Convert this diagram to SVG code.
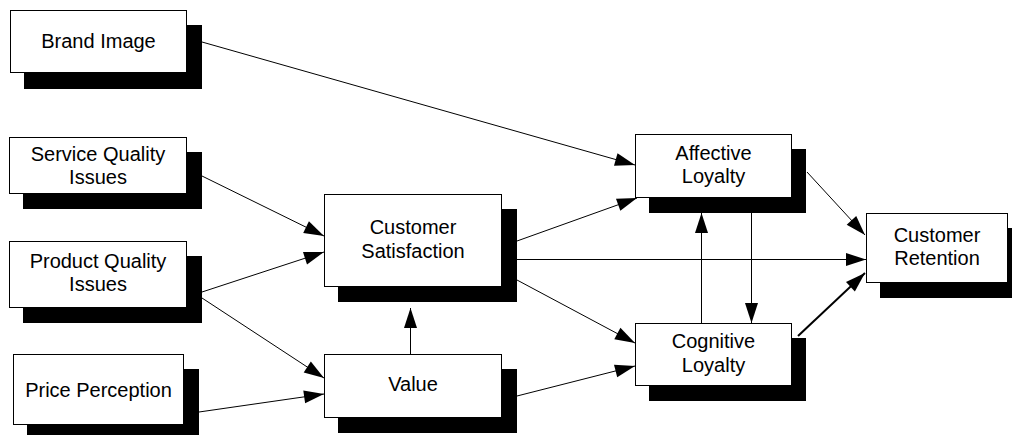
<svg xmlns="http://www.w3.org/2000/svg" width="1012" height="435" viewBox="0 0 1012 435">
  <style>
    .shadow { fill: #000; }
    .box { fill: #fff; stroke: #000; stroke-width: 1; }
    .label { font-family: "Liberation Sans", Arial, sans-serif; font-size: 20px; fill: #000; text-anchor: middle; }
    .edge { stroke: #000; stroke-width: 1; fill: none; marker-end: url(#arrow); }
    .edge.bold { stroke-width: 2; }
  </style>
  <defs>
    <marker id="arrow" markerUnits="userSpaceOnUse" markerWidth="20" markerHeight="13" refX="20" refY="6.5" orient="auto" overflow="visible">
      <path d="M0,0 L20,6.5 L0,13 Z" fill="#000"/>
    </marker>
  </defs>

  <rect width="1012" height="435" fill="#fff"/>

  <g id="connectors">
    <line class="edge" x1="202" y1="42" x2="635" y2="165"/>
    <line class="edge" x1="202" y1="176" x2="324" y2="236"/>
    <line class="edge" x1="202" y1="292" x2="324" y2="252"/>
    <line class="edge" x1="202" y1="298" x2="324" y2="378"/>
    <line class="edge" x1="199" y1="412" x2="324" y2="394"/>
    <line class="edge" x1="410.5" y1="354" x2="410.5" y2="308"/>
    <line class="edge" x1="517" y1="241" x2="637" y2="198"/>
    <line class="edge" x1="517" y1="259.5" x2="866" y2="259.5"/>
    <line class="edge" x1="517" y1="280" x2="635" y2="343"/>
    <line class="edge" x1="517" y1="396" x2="635" y2="366"/>
    <line class="edge" x1="701.5" y1="323" x2="701.5" y2="213"/>
    <line class="edge" x1="751.5" y1="213" x2="751.5" y2="323"/>
    <line class="edge" x1="807" y1="172" x2="865" y2="235"/>
    <line class="edge bold" x1="798" y1="336" x2="865" y2="273"/>
  </g>

  <g id="brand-image">
    <rect class="shadow" x="24" y="25" width="178" height="64"/>
    <rect class="box" x="10.5" y="10.5" width="176" height="62"/>
    <text class="label" x="98.5" y="48">Brand Image</text>
  </g>

  <g id="service-quality">
    <rect class="shadow" x="23" y="152" width="179" height="57"/>
    <rect class="box" x="9.5" y="137.5" width="177" height="56"/>
    <text class="label" x="98" y="161">Service Quality</text>
    <text class="label" x="98" y="184">Issues</text>
  </g>

  <g id="product-quality">
    <rect class="shadow" x="23" y="256" width="179" height="67"/>
    <rect class="box" x="9.5" y="241.5" width="177" height="66"/>
    <text class="label" x="98" y="268">Product Quality</text>
    <text class="label" x="98" y="291">Issues</text>
  </g>

  <g id="price-perception">
    <rect class="shadow" x="27" y="369" width="172" height="66"/>
    <rect class="box" x="13.5" y="354.5" width="170" height="70"/>
    <text class="label" x="98.5" y="397">Price Perception</text>
  </g>

  <g id="customer-satisfaction">
    <rect class="shadow" x="338" y="209" width="179" height="93"/>
    <rect class="box" x="324.5" y="194.5" width="177" height="92"/>
    <text class="label" x="413" y="234">Customer</text>
    <text class="label" x="413" y="258">Satisfaction</text>
  </g>

  <g id="value">
    <rect class="shadow" x="338" y="369" width="179" height="64"/>
    <rect class="box" x="324.5" y="354.5" width="177" height="63"/>
    <text class="label" x="413" y="391">Value</text>
  </g>

  <g id="affective-loyalty">
    <rect class="shadow" x="649" y="149" width="157" height="64"/>
    <rect class="box" x="635.5" y="134.5" width="156" height="63"/>
    <text class="label" x="713.5" y="160">Affective</text>
    <text class="label" x="713.5" y="183">Loyalty</text>
  </g>

  <g id="cognitive-loyalty">
    <rect class="shadow" x="649" y="338" width="157" height="63"/>
    <rect class="box" x="635.5" y="323.5" width="156" height="62"/>
    <text class="label" x="713.5" y="348">Cognitive</text>
    <text class="label" x="713.5" y="372">Loyalty</text>
  </g>

  <g id="customer-retention">
    <rect class="shadow" x="880" y="228" width="142" height="70"/>
    <rect class="box" x="866.5" y="213.5" width="141" height="69"/>
    <text class="label" x="937" y="242">Customer</text>
    <text class="label" x="937" y="265">Retention</text>
  </g>
</svg>
